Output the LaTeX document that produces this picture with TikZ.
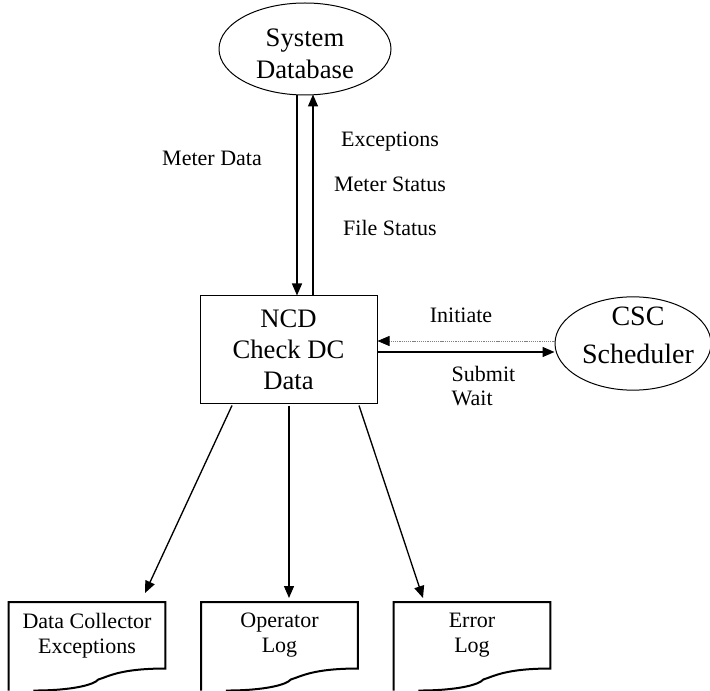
\documentclass[tikz,border=0pt]{standalone}
\usepackage{fontspec}
\setmainfont{Liberation Serif}
\usetikzlibrary{shapes.geometric,arrows.meta,calc}
\begin{document}
\begin{tikzpicture}[x=0.75pt,y=-0.75pt,
  bigtext/.style={font=\fontsize{20}{24}\selectfont},
  smalltext/.style={font=\fontsize{16.5}{19}\selectfont},
  ell/.style={draw,ellipse,inner sep=0pt,line width=0.75pt},
  proc/.style={draw,rectangle,line width=0.75pt,align=center,inner sep=0pt,
    font=\fontsize{20}{23.25}\selectfont},
  docbox/.style={rectangle,draw=none,minimum width=117pt,minimum height=49.5pt,
    inner sep=0pt,align=center,font=\fontsize{16.5}{18.75}\selectfont},
  docline/.style={line width=1.5pt},
  flow/.style={line width=1pt,-{Triangle[length=9pt,width=7.5pt]}},
  dotflow/.style={line width=0.6pt,gray,dash pattern=on 0.8pt off 0.6pt,
    -{Triangle[length=9pt,width=7.5pt,color=black]}}]
\useasboundingbox (0,0) rectangle (710,691);

% nodes
\node[ell,minimum width=129pt,minimum height=69pt,
  label={[align=center,yshift=-3.75pt,font=\fontsize{20}{24}\selectfont]center:System\\Database}] (db) at (305,49) {};
\node[proc,minimum width=132.75pt,minimum height=80.25pt] (ncd) at (288.5,349.5) {NCD\\Check DC\\Data};
\node[ell,minimum width=117pt,minimum height=70pt,
  label={[align=center,xshift=3.75pt,yshift=6pt,font=\fontsize{21}{28}\selectfont]center:CSC\\Scheduler}] (csc) at (633,343.5) {};

\node[docbox,anchor=north] (dce) at (87,602) {Data Collector\\Exceptions};
\node[docbox,anchor=north] (opl) at (279.5,602) {Operator\\Log};
\node[docbox,anchor=north] (err) at (472,602) {Error\\Log};

% document outlines
\foreach \d in {dce,opl,err}{
  \draw[docline] ($(\d.south west)+(0,22)$) -- (\d.north west) -- (\d.north east) -- (\d.south east)
    .. controls +(-45,0) and +(10,-3) .. ++(-67,11)
    .. controls +(-4,5) and +(40,0) .. ++(-65,11);
}

% labels
\node[smalltext,anchor=base] (lmd) at (212,166) {Meter Data};
\node[smalltext,anchor=base] (lex) at (390,147) {Exceptions};
\node[smalltext,anchor=base] (lms) at (390,192) {Meter Status};
\node[smalltext,anchor=base] (lfs) at (390,236) {File Status};
\node[smalltext,anchor=base] (lin) at (461,323) {Initiate};
\node[smalltext,anchor=base west] (lsu) at (447,382) {Submit};
\node[smalltext,anchor=base west] (lwa) at (447,405) {Wait};

% connectors
\coordinate (xd) at (297,0);
\coordinate (xu) at (313,0);
\draw[flow] (db.south -| xd) -- (ncd.north -| xd);
\draw[flow] (ncd.north -| xu) -- ($(db.south -| xu)+(0,-1)$);

\draw[dotflow] ($(csc.west)+(0,-2.5)$) -- ($(ncd.east)+(0,-8.5)$);
\draw[flow] ($(ncd.east)+(0,2.5)$) -- ($(csc.west)+(0,8.5)$);

\draw[flow] ($(ncd.south)+(-56.5,2)$) -- ($(dce.north)+(58,-9)$);
\draw[flow] ($(ncd.south)+(0.5,2)$) -- ($(opl.north)+(9.5,-4)$);
\draw[flow] ($(ncd.south)+(70.5,2)$) -- ($(err.north)+(-49,-4)$);
\end{tikzpicture}
\end{document}
